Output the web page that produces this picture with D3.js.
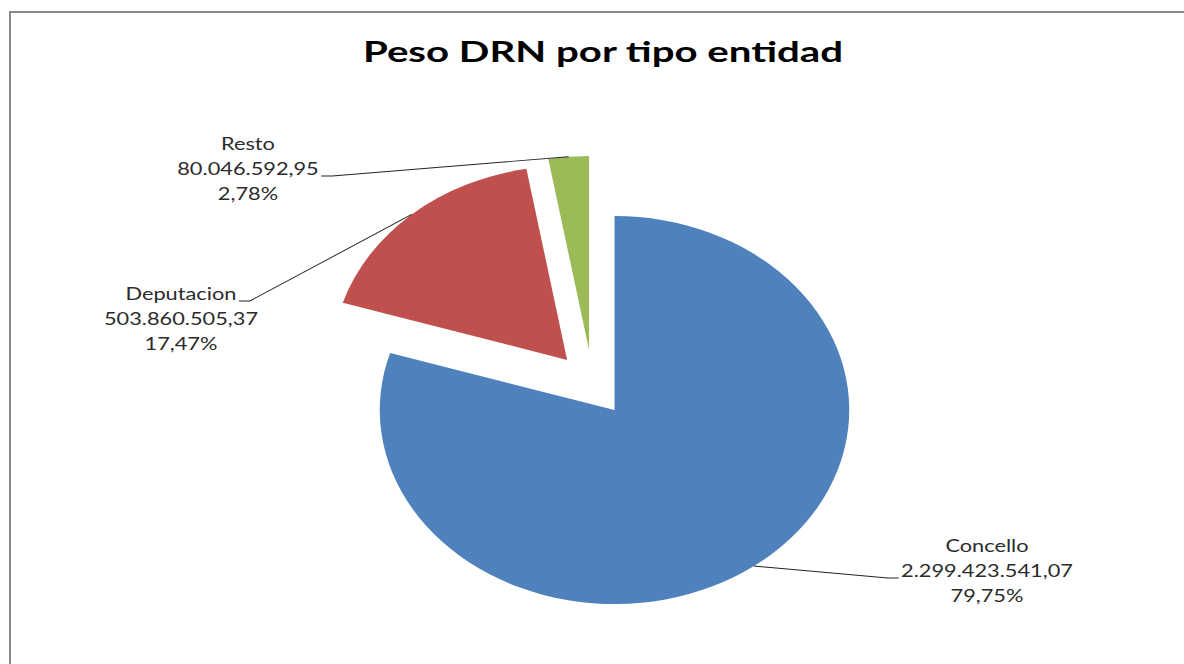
<!DOCTYPE html>
<html>
<head>
<meta charset="utf-8">
<script src="https://cdn.jsdelivr.net/npm/d3@7"></script>
<style>
  body { margin: 0; background: #fff; }
  svg { display: block; }
  text { font-family: Lato, "Open Sans", sans-serif; }
</style>
</head>
<body>
<svg id="chart" width="1184" height="664"></svg>
<script>
// data
const categories = ['Concello', 'Deputacion', 'Resto'];
const values = [2299423541.07, 503860505.37, 80046592.95];
const colors = ['#4F81BD', '#C0504D', '#9BBB59'];
const chartTitle = 'Peso DRN por tipo entidad';

const W = 1184, H = 664;
// the original picture is stretched sideways, so we draw in a squeezed
// space and scale the whole group back out on x
const SX = 1.21;
const cx = 614.5 / SX, cy = 410, R = 194;

// exploded slices: distance + direction (deg, clockwise from 12 o'clock)
const explode = {
  Deputacion: {d: 63.6, a: -38},
  Resto: {d: 63.6, a: -19.3}
};
// label block: centre x (screen px), first baseline, which line carries the leader
const labelPos = {
  Resto: {x: 248, y: 150, line: 1, side: 'right'},
  Deputacion: {x: 181, y: 300, line: 0, side: 'right'},
  Concello: {x: 987, y: 552, line: 1, side: 'left'}
};
const lineH = 25;

const es = d3.formatLocale({decimal: ',', thousands: '.', grouping: [3], currency: ['', '€']});
const fmtVal = es.format(',.2f');
const fmtPct = es.format('.2%');

const svg = d3.select('#chart');

svg.append('rect')
  .attr('x', 10).attr('y', 12)
  .attr('width', W + 50).attr('height', H + 50)
  .attr('fill', 'none')
  .attr('stroke', '#8a8a8a')
  .attr('stroke-width', 2);

const root = svg.append('g').attr('transform', `scale(${SX},1)`);

root.append('text')
  .attr('x', 603 / SX)
  .attr('y', 62)
  .attr('text-anchor', 'middle')
  .attr('font-family', '"Open Sans", Lato, sans-serif')
  .attr('font-size', 29)
  .attr('font-weight', 'bold')
  .attr('textLength', 480 / SX)
  .attr('lengthAdjust', 'spacingAndGlyphs')
  .attr('fill', '#000')
  .text(chartTitle);

const total = d3.sum(values);
const rows = categories.map((c, i) => ({name: c, value: values[i], color: colors[i]}));

const pie = d3.pie().sort(null).value(d => d.value);
const arc = d3.arc().innerRadius(0).outerRadius(R);
const arcs = pie(rows);

function offset(name) {
  const e = explode[name];
  if (!e) return [0, 0];
  const a = e.a * Math.PI / 180;
  return [Math.sin(a) * e.d, -Math.cos(a) * e.d];
}

const slices = root.append('g').attr('transform', `translate(${cx},${cy})`);
slices.selectAll('path')
  .data(arcs)
  .join('path')
  .attr('transform', d => `translate(${offset(d.data.name)})`)
  .attr('d', arc)
  .attr('fill', d => d.data.color);

// labels + leader lines
const labels = root.append('g');
arcs.forEach(d => {
  const p = labelPos[d.data.name];
  const lx = p.x / SX;
  const lines = [d.data.name, fmtVal(d.data.value), fmtPct(d.data.value / total)];
  const t = labels.append('text')
    .attr('text-anchor', 'middle')
    .attr('font-size', 18)
    .attr('fill', '#2b2b2b');
  const spans = lines.map((s, i) => t.append('tspan')
    .attr('x', lx)
    .attr('y', p.y + i * lineH)
    .text(s));

  const len = spans[p.line].node().getComputedTextLength();
  const by = p.y + p.line * lineH + 1;
  const [ox, oy] = offset(d.data.name);
  const mid = (d.startAngle + d.endAngle) / 2;
  const ax = cx + ox + Math.sin(mid) * R;
  const ay = cy + oy - Math.cos(mid) * R;
  let x0, x1;
  if (p.side == 'right') {
    x0 = lx + len / 2 + 2;
    x1 = x0 + 9;
  } else {
    x0 = lx - len / 2 - 2;
    x1 = x0 - 9;
  }
  labels.append('path')
    .attr('d', d3.line()([[x0, by], [x1, by], [ax, ay]]))
    .attr('fill', 'none')
    .attr('stroke', '#222')
    .attr('stroke-width', 0.9);
});
</script>
</body>
</html>
